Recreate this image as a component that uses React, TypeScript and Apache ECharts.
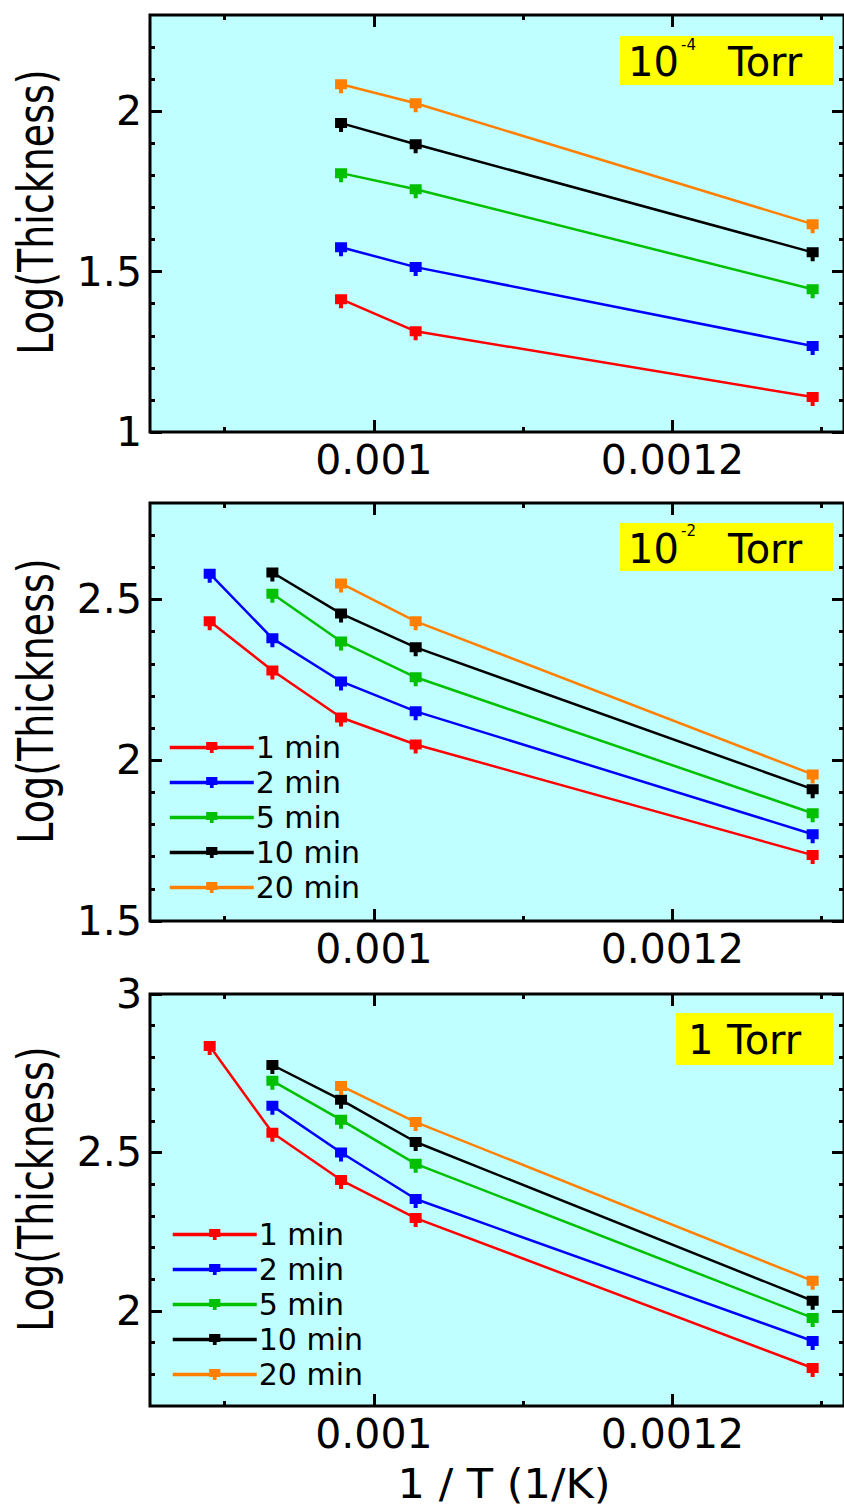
import React, { useEffect, useRef } from "react";
import * as echarts from "echarts";

// ---------- data ----------
const invT = [0.00089, 0.000932, 0.000978, 0.001028, 0.001294]; // 1/T (1/K)
const seriesNames = ["1 min", "2 min", "5 min", "10 min", "20 min"];
const seriesColors = ["#ff0000", "#0000ff", "#00c000", "#000000", "#ff8000"];

// 10^-4 Torr
const p1_1min = [null, null, 1.414, 1.314, 1.109];
const p1_2min = [null, null, 1.576, 1.514, 1.268];
const p1_5min = [null, null, 1.807, 1.757, 1.445];
const p1_10min = [null, null, 1.963, 1.897, 1.56];
const p1_20min = [null, null, 2.084, 2.025, 1.648];

// 10^-2 Torr
const p2_1min = [2.432, 2.279, 2.133, 2.049, 1.705];
const p2_2min = [2.58, 2.379, 2.245, 2.152, 1.77];
const p2_5min = [null, 2.518, 2.369, 2.258, 1.835];
const p2_10min = [null, 2.584, 2.456, 2.351, 1.91];
const p2_20min = [null, null, 2.55, 2.432, 1.956];

// 1 Torr
const p3_1min = [2.836, 2.562, 2.413, 2.293, 1.82];
const p3_2min = [null, 2.647, 2.5, 2.353, 1.905];
const p3_5min = [null, 2.726, 2.603, 2.464, 1.978];
const p3_10min = [null, 2.776, 2.666, 2.533, 2.032];
const p3_20min = [null, null, 2.71, 2.596, 2.095];

const panelValues = [
  [p1_1min, p1_2min, p1_5min, p1_10min, p1_20min],
  [p2_1min, p2_2min, p2_5min, p2_10min, p2_20min],
  [p3_1min, p3_2min, p3_5min, p3_10min, p3_20min],
];

const pressureBase = ["10", "10", "1"];
const pressureExp = ["-4", "-2", ""];
const pressureUnit = "Torr";

// axes
const X_MIN = 0.00085;
const X_MAX = 0.001315;
const xMajor = [0.001, 0.0012];
const xMajorLabels = ["0.001", "0.0012"];
const xMinor = [0.0009, 0.0011, 0.0013];

const yMin = [1, 1.5, 1.7];
const yMax = [2.3, 2.8, 3.0];
const yMajor = [
  [1, 1.5, 2],
  [1.5, 2, 2.5],
  [2, 2.5, 3],
];
const yMinor = [
  [1.1, 1.2, 1.3, 1.4, 1.6, 1.7, 1.8, 1.9, 2.1, 2.2],
  [1.6, 1.7, 1.8, 1.9, 2.1, 2.2, 2.3, 2.4, 2.6, 2.7],
  [1.8, 1.9, 2.1, 2.2, 2.3, 2.4, 2.6, 2.7, 2.8, 2.9],
];

const yAxisTitle = "Log(Thickness)";
const xAxisTitle = "1 / T (1/K)";

// ---------- layout / style ----------
const FONT = "DejaVu Sans";
const gridTops = [15, 503, 994];
const gridHeights = [417, 418, 412];
const GRID_LEFT = 150;
const GRID_WIDTH = 696;
const boxes = [
  { x: 620, y: 36, w: 213, h: 49, tx: 628, ty: 62, ex: 681, ey: 45, ux: 728 },
  { x: 620, y: 523, w: 213, h: 48, tx: 628, ty: 549, ex: 681, ey: 531, ux: 728 },
  { x: 676, y: 1013, w: 157, h: 52, tx: 688, ty: 1040, ex: 0, ey: 0, ux: 727 },
];
const yNameCenters = [212, 701, 1189];
const legendTops = [730, 1217];
const legendLefts = [168, 171];

const MARKER = "path://M0 0H12V10H8V14H4V10H0Z";

function xLabelFmt(v: number) {
  const i = xMajor.findIndex((m) => Math.abs(m - v) < 1e-9);
  return i >= 0 ? xMajorLabels[i] : "";
}

function buildOption() {
  const tickLine = { color: "#000", width: 3 };
  const grid = gridTops.map((top, i) => ({
    left: GRID_LEFT,
    top,
    width: GRID_WIDTH,
    height: gridHeights[i],
    show: true,
    backgroundColor: "#bfffff",
    borderColor: "#000",
    borderWidth: 3,
    containLabel: false,
  }));

  const xAxis: any[] = [];
  const yAxis: any[] = [];
  for (let g = 0; g < 3; g++) {
    const xb = {
      type: "value",
      gridIndex: g,
      min: X_MIN,
      max: X_MAX,
      axisLine: { show: false },
      splitLine: { show: false },
    };
    xAxis.push({
      ...xb,
      position: "bottom",
      axisTick: { inside: true, length: 12, customValues: xMajor, lineStyle: tickLine },
      axisLabel: {
        customValues: xMajor,
        formatter: xLabelFmt,
        fontSize: 41,
        fontFamily: FONT,
        color: "#000",
        margin: 7,
        showMinLabel: true,
        showMaxLabel: true,
      },
    });
    xAxis.push({
      ...xb,
      position: "bottom",
      axisTick: { inside: true, length: 5, customValues: xMinor, lineStyle: tickLine },
      axisLabel: { show: false },
    });
    xAxis.push({
      ...xb,
      position: "top",
      axisTick: { inside: true, length: 12, customValues: xMajor, lineStyle: tickLine },
      axisLabel: { show: false },
    });
    xAxis.push({
      ...xb,
      position: "top",
      axisTick: { inside: true, length: 5, customValues: xMinor, lineStyle: tickLine },
      axisLabel: { show: false },
    });

    const yb = {
      type: "value",
      gridIndex: g,
      min: yMin[g],
      max: yMax[g],
      axisLine: { show: false },
      splitLine: { show: false },
    };
    yAxis.push({
      ...yb,
      position: "left",
      axisTick: { inside: true, length: 12, customValues: yMajor[g], lineStyle: tickLine },
      axisLabel: {
        customValues: yMajor[g],
        fontSize: 41,
        fontFamily: FONT,
        color: "#000",
        margin: 8,
        showMinLabel: true,
        showMaxLabel: true,
      },
    });
    yAxis.push({
      ...yb,
      position: "left",
      axisTick: { inside: true, length: 5, customValues: yMinor[g], lineStyle: tickLine },
      axisLabel: { show: false },
    });
    yAxis.push({
      ...yb,
      position: "right",
      axisTick: { inside: true, length: 12, customValues: yMajor[g], lineStyle: tickLine },
      axisLabel: { show: false },
    });
    yAxis.push({
      ...yb,
      position: "right",
      axisTick: { inside: true, length: 5, customValues: yMinor[g], lineStyle: tickLine },
      axisLabel: { show: false },
    });
  }

  const series: any[] = [];
  panelValues.forEach((vals, g) => {
    vals.forEach((arr, s) => {
      const data: number[][] = [];
      arr.forEach((v, k) => {
        if (v !== null && v !== undefined) data.push([invT[k], v as number]);
      });
      series.push({
        type: "line",
        name: seriesNames[s],
        xAxisIndex: g * 4,
        yAxisIndex: g * 4,
        data,
        symbol: MARKER,
        symbolSize: [12, 14],
        symbolOffset: [0, 2],
        color: seriesColors[s],
        itemStyle: { color: seriesColors[s] },
        lineStyle: { color: seriesColors[s], width: 2.5 },
        z: 5,
      });
    });
  });

  const legend = legendTops.map((top, i) => ({
    data: seriesNames,
    orient: "vertical",
    left: legendLefts[i],
    top,
    padding: 0,
    itemGap: 0,
    itemWidth: 84,
    itemHeight: 14,
    selectedMode: false,
    lineStyle: { width: 3.5 },
    textStyle: { fontSize: 30, lineHeight: 35, fontFamily: FONT, color: "#000", padding: [0, 0, 0, -3] },
  }));

  const graphic: any[] = [];
  boxes.forEach((b, g) => {
    graphic.push({
      type: "rect",
      shape: { x: b.x, y: b.y, width: b.w, height: b.h },
      style: { fill: "#ffff00" },
      z: 20,
    });
    graphic.push({
      type: "text",
      x: b.tx,
      y: b.ty,
      style: {
        text: pressureBase[g],
        fontSize: 40,
        fontFamily: FONT,
        fill: "#000",
        align: "left",
        verticalAlign: "middle",
      },
      z: 21,
    });
    if (pressureExp[g]) {
      graphic.push({
        type: "text",
        x: b.ex,
        y: b.ey,
        style: {
          text: pressureExp[g],
          fontSize: 15,
          fontFamily: FONT,
          fill: "#000",
          align: "left",
          verticalAlign: "middle",
        },
        z: 21,
      });
    }
    graphic.push({
      type: "text",
      x: b.ux,
      y: b.ty,
      style: {
        text: pressureUnit,
        fontSize: 40,
        fontFamily: FONT,
        fill: "#000",
        align: "left",
        verticalAlign: "middle",
      },
      z: 21,
    });
    graphic.push({
      type: "text",
      x: 36,
      y: yNameCenters[g],
      rotation: Math.PI / 2,
      scaleY: 1.3,
      style: {
        text: yAxisTitle,
        fontSize: 38,
        fontFamily: FONT,
        fill: "#000",
        align: "center",
        verticalAlign: "middle",
      },
      z: 21,
    });
  });
  graphic.push({
    type: "text",
    x: 504,
    y: 1484,
    scaleX: 1.05,
    style: {
      text: xAxisTitle,
      fontSize: 41,
      fontFamily: FONT,
      fill: "#000",
      align: "center",
      verticalAlign: "middle",
    },
    z: 21,
  });

  return {
    animation: false,
    backgroundColor: "#ffffff",
    textStyle: { fontFamily: FONT },
    grid,
    xAxis,
    yAxis,
    legend,
    series,
    graphic,
  };
}

export default function App() {
  const ref = useRef<HTMLDivElement>(null);
  useEffect(() => {
    if (!ref.current) return;
    const chart = echarts.init(ref.current, undefined, { renderer: "svg" });
    chart.setOption(buildOption() as any);
    return () => chart.dispose();
  }, []);
  return (
    <div
      ref={ref}
      style={{ position: "absolute", left: 0, top: 0, width: 844, height: 1508 }}
    />
  );
}
